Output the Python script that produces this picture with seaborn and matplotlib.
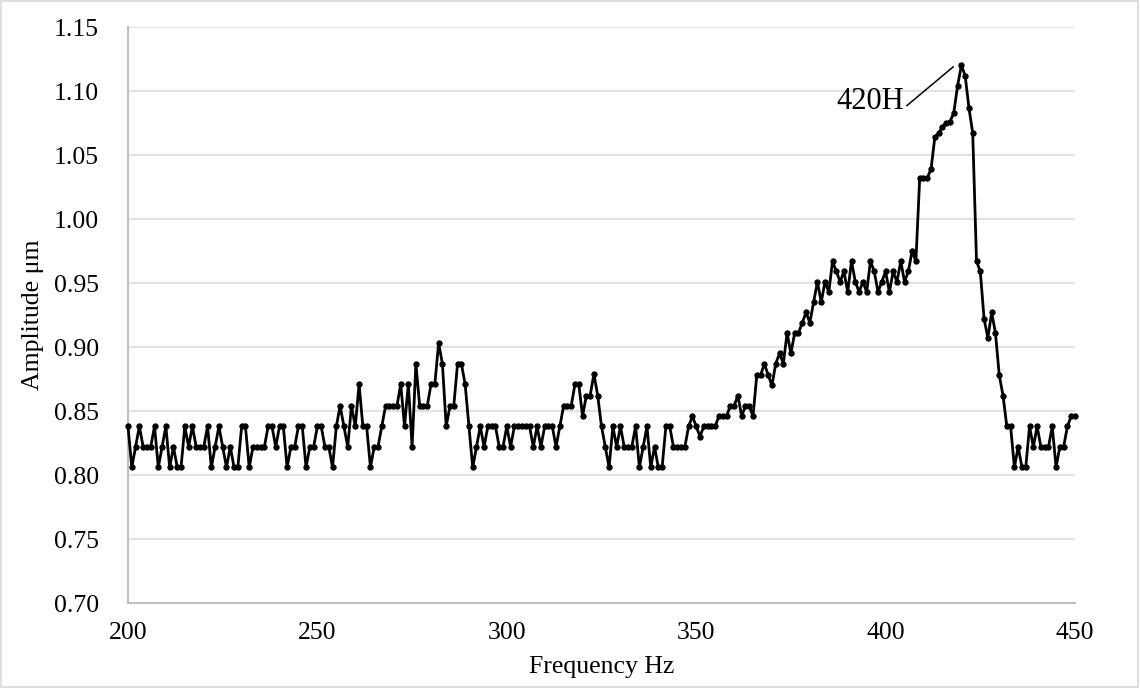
import numpy as np
import pandas as pd
import matplotlib
matplotlib.use("Agg")
import matplotlib.pyplot as plt
from matplotlib.patches import Rectangle
import seaborn as sns

# ---------------- data ----------------
freq_start = 200
freq_stop = 450

amp_200_249 = [0.838, 0.806, 0.822, 0.838, 0.822, 0.822, 0.822, 0.838, 0.806, 0.822,
               0.838, 0.806, 0.822, 0.806, 0.806, 0.838, 0.822, 0.838, 0.822, 0.822,
               0.822, 0.838, 0.806, 0.822, 0.838, 0.822, 0.806, 0.822, 0.806, 0.806,
               0.838, 0.838, 0.806, 0.822, 0.822, 0.822, 0.822, 0.838, 0.838, 0.822,
               0.838, 0.838, 0.806, 0.822, 0.822, 0.838, 0.838, 0.806, 0.822, 0.822]
amp_250_299 = [0.838, 0.838, 0.822, 0.822, 0.806, 0.838, 0.854, 0.838, 0.822, 0.854,
               0.838, 0.871, 0.838, 0.838, 0.806, 0.822, 0.822, 0.838, 0.854, 0.854,
               0.854, 0.854, 0.871, 0.838, 0.871, 0.822, 0.887, 0.854, 0.854, 0.854,
               0.871, 0.871, 0.903, 0.887, 0.838, 0.854, 0.854, 0.887, 0.887, 0.871,
               0.838, 0.806, 0.822, 0.838, 0.822, 0.838, 0.838, 0.838, 0.822, 0.822]
amp_300_349 = [0.838, 0.822, 0.838, 0.838, 0.838, 0.838, 0.838, 0.822, 0.838, 0.822,
               0.838, 0.838, 0.838, 0.822, 0.838, 0.854, 0.854, 0.854, 0.871, 0.871,
               0.846, 0.862, 0.862, 0.879, 0.862, 0.838, 0.822, 0.806, 0.838, 0.822,
               0.838, 0.822, 0.822, 0.822, 0.838, 0.806, 0.822, 0.838, 0.806, 0.822,
               0.806, 0.806, 0.838, 0.838, 0.822, 0.822, 0.822, 0.822, 0.838, 0.846]
amp_350_399 = [0.838, 0.830, 0.838, 0.838, 0.838, 0.838, 0.846, 0.846, 0.846, 0.854,
               0.854, 0.862, 0.846, 0.854, 0.854, 0.846, 0.878, 0.878, 0.887, 0.878,
               0.870, 0.887, 0.895, 0.887, 0.911, 0.895, 0.911, 0.911, 0.919, 0.927,
               0.919, 0.935, 0.951, 0.935, 0.951, 0.943, 0.967, 0.959, 0.951, 0.959,
               0.943, 0.967, 0.951, 0.943, 0.951, 0.943, 0.967, 0.959, 0.943, 0.951]
amp_400_450 = [0.959, 0.943, 0.959, 0.951, 0.967, 0.951, 0.959, 0.975, 0.967, 1.032,
               1.032, 1.032, 1.039, 1.064, 1.067, 1.072, 1.075, 1.076, 1.083, 1.104,
               1.120, 1.112, 1.087, 1.067, 0.967, 0.959, 0.922, 0.907, 0.927, 0.911,
               0.878, 0.862, 0.838, 0.838, 0.806, 0.822, 0.806, 0.806, 0.838, 0.822,
               0.838, 0.822, 0.822, 0.822, 0.838, 0.806, 0.822, 0.822, 0.838, 0.846,
               0.846]

amplitude = amp_200_249 + amp_250_299 + amp_300_349 + amp_350_399 + amp_400_450
frequency = list(range(freq_start, freq_stop + 1))
assert len(frequency) == len(amplitude)

x_ticks = [200, 250, 300, 350, 400, 450]
y_ticks = [0.70, 0.75, 0.80, 0.85, 0.90, 0.95, 1.00, 1.05, 1.10, 1.15]
x_label = "Frequency Hz"
y_label = "Amplitude μm"
peak_label = "420H"

df = pd.DataFrame({"freq": frequency, "amp": amplitude})

# ---------------- styling ----------------
sns.set_theme(style="white")
plt.rcParams["font.family"] = ["Liberation Serif", "DejaVu Serif"]
plt.rcParams["font.size"] = 18.5
plt.rcParams["text.color"] = "black"
plt.rcParams["axes.labelcolor"] = "black"

fig = plt.figure(figsize=(11.4, 6.88), dpi=100)
ax = fig.add_axes([128 / 1140, (688 - 603) / 688, (1075 - 128) / 1140, (603 - 27) / 688])

sns.lineplot(data=df, x="freq", y="amp", ax=ax, color="black", linewidth=2.0,
             marker="o", markersize=3.8, markeredgecolor="black",
             markerfacecolor="black", estimator=None, clip_on=False, zorder=3)

ax.set_xlim(x_ticks[0], x_ticks[-1])
ax.set_ylim(y_ticks[0], y_ticks[-1])
ax.set_xticks(x_ticks)
ax.set_yticks(y_ticks)
ax.set_xticklabels([str(t) for t in x_ticks])
ax.set_yticklabels([f"{t:.2f}" for t in y_ticks])
ax.tick_params(axis="both", length=0, labelsize=18.5, colors="black")
ax.tick_params(axis="y", pad=21)
ax.tick_params(axis="x", pad=14)

ax.grid(axis="y", color="#d9d9d9", linewidth=1.1)
ax.grid(axis="x", visible=False)
ax.set_axisbelow(True)

for side in ["top", "right"]:
    ax.spines[side].set_visible(False)
for side in ["left", "bottom"]:
    ax.spines[side].set_color("#bfbfbf")
    ax.spines[side].set_linewidth(1.5)

ax.set_xlabel(x_label, fontsize=18.5, labelpad=8, color="black")
ax.set_ylabel(y_label, fontsize=18.5, labelpad=7, color="black")

# annotation of the peak
peak_idx = int(np.argmax(amplitude))
px, py = frequency[peak_idx], amplitude[peak_idx]
ax.annotate(peak_label, xy=(px - 2.1, py - 0.001), xytext=(px - 24.2, py - 0.028),
            ha="center", va="center", fontsize=22, color="black",
            arrowprops=dict(arrowstyle="-", color="black", lw=1.1,
                            shrinkA=0, shrinkB=0, relpos=(1.0, 0.25)))

# chart border
fig.patches.append(Rectangle((0.001, 0.002), 0.997, 0.996, transform=fig.transFigure,
                             fill=False, edgecolor="#d9d9d9", linewidth=1.2))

fig.savefig("out.png", dpi=100, facecolor="white")
